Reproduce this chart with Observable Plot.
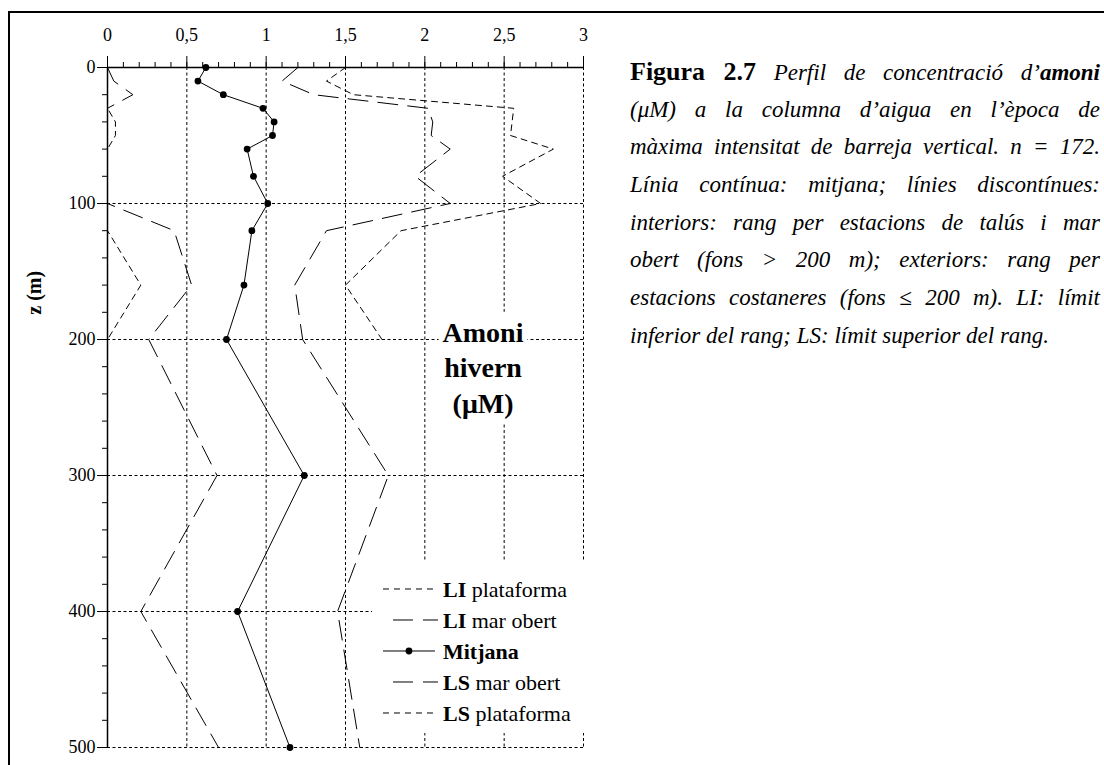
<!DOCTYPE html>
<html>
<head>
<meta charset="utf-8">
<script src="https://cdn.jsdelivr.net/npm/d3@7"></script>
<script src="https://cdn.jsdelivr.net/npm/@observablehq/plot@0.6"></script>
<style>
  html, body { margin: 0; padding: 0; background: #fff; width: 1104px; height: 765px; overflow: hidden; }
  #frame { position: absolute; left: 8px; top: 11px; width: 1200px; height: 900px;
           border-left: 2px solid #000; border-top: 2px solid #000; }
  #chart { position: absolute; left: 0; top: 0; }
  #caption { position: absolute; left: 630px; top: 53px; width: 470px;
             font-family: "Liberation Serif", "Times New Roman", serif; font-size: 23px;
             font-style: italic; color: #000; }
  #caption .ln { height: 37.7px; line-height: 37.7px; text-align: justify; text-align-last: justify; }
  #caption .ln.last { text-align: left; text-align-last: left; }
  #caption .fig { font-style: normal; font-weight: bold; font-size: 26px; }
</style>
</head>
<body>
<div id="frame"></div>
<div id="chart"></div>
<div id="caption">
  <div class="ln"><span class="fig">Figura 2.7</span> Perfil de concentració d’<b>amoni</b></div>
  <div class="ln">(μM) a la columna d’aigua en l’època de</div>
  <div class="ln">màxima intensitat de barreja vertical. n = 172.</div>
  <div class="ln">Línia contínua: mitjana; línies discontínues:</div>
  <div class="ln">interiors: rang per estacions de talús i mar</div>
  <div class="ln">obert (fons &gt; 200 m); exteriors: rang per</div>
  <div class="ln">estacions costaneres (fons ≤ 200 m). LI: límit</div>
  <div class="ln last">inferior del rang; LS: límit superior del rang.</div>
</div>
<script>
// Sampling depths (m): open-sea profiles reach 500 m, shelf stations stop at 200 m
const depth = [0, 10, 20, 30, 40, 50, 60, 80, 100, 120, 160, 200, 300, 400, 500];
const depthPlataforma = [0, 10, 20, 30, 40, 50, 60, 80, 100, 120, 160, 200];

// Ammonium concentration (µM), winter mixing period
const mitjana      = [0.62, 0.57, 0.73, 0.98, 1.05, 1.04, 0.88, 0.92, 1.01, 0.91, 0.86, 0.75, 1.24, 0.82, 1.15];
const liMarObert   = [0.00, 0.04, 0.16, 0.00, 0.00, 0.00, 0.00, 0.00, 0.00, 0.42, 0.53, 0.26, 0.69, 0.21, 0.70];
const lsMarObert   = [1.20, 1.10, 1.30, 2.02, 2.05, 2.04, 2.16, 1.94, 2.16, 1.38, 1.18, 1.23, 1.77, 1.45, 1.59];
const liPlataforma = [0.00, 0.00, 0.00, 0.00, 0.05, 0.05, 0.00, 0.00, 0.00, 0.00, 0.21, 0.00];
const lsPlataforma = [1.50, 1.38, 1.55, 2.56, 2.55, 2.54, 2.81, 2.49, 2.73, 1.85, 1.50, 1.73];

const xTicks = [0, 0.5, 1, 1.5, 2, 2.5, 3];
const yTicks = [0, 100, 200, 300, 400, 500];
const xMinorTicks = d3.range(0, 31).map(i => i / 10);
const yMinorTicks = d3.range(0, 501, 20);

const chartLabel = ["Amoni", "hivern", "(μM)"];
const legendLabels = [["LI", " plataforma"], ["LI", " mar obert"], ["Mitjana", ""], ["LS", " mar obert"], ["LS", " plataforma"]];

const rows = (zs, vs) => zs.map((z, i) => ({z, v: vs[i]}));
const comma = d => String(d).replace(".", ",");

const SHORT = "6,5";
const LONG = "20,10";
const GRID = "3,2.5";

const plot = Plot.plot({
  width: 600,
  height: 765,
  marginLeft: 107,
  marginRight: 17,
  marginTop: 67,
  marginBottom: 18,
  style: {fontFamily: "'Liberation Serif', 'Times New Roman', serif", fontSize: "18px", color: "#000", background: "transparent"},
  x: {domain: [0, 3]},
  y: {domain: [0, 500], reverse: true},
  marks: [
    // dotted reference grid
    Plot.ruleX(xTicks.slice(1), {stroke: "#000", strokeWidth: 1, strokeDasharray: GRID}),
    Plot.ruleY(yTicks.slice(1), {stroke: "#000", strokeWidth: 1, strokeDasharray: GRID}),
    // top concentration axis
    Plot.axisX({anchor: "top", ticks: xMinorTicks, tickSize: 6, tickFormat: () => "", label: null, stroke: "#000"}),
    Plot.axisX({anchor: "top", ticks: xTicks, tickSize: 12, tickPadding: 15, tickFormat: comma, label: null, stroke: "#000", fill: "#000"}),
    // depth axis
    Plot.axisY({anchor: "left", ticks: yMinorTicks, tickSize: 5, tickFormat: () => "", label: null, stroke: "#000"}),
    Plot.axisY({anchor: "left", ticks: yTicks, tickSize: 10, tickPadding: 2, label: null, stroke: "#000", fill: "#000"}),
    Plot.ruleX([0], {stroke: "#000", strokeWidth: 1.5}),
    Plot.ruleY([0], {stroke: "#000", strokeWidth: 1.5}),
    // range envelopes
    Plot.line(rows(depthPlataforma, liPlataforma), {x: "v", y: "z", stroke: "#000", strokeWidth: 1, strokeDasharray: SHORT}),
    Plot.line(rows(depth, liMarObert), {x: "v", y: "z", stroke: "#000", strokeWidth: 1, strokeDasharray: LONG}),
    Plot.line(rows(depth, lsMarObert), {x: "v", y: "z", stroke: "#000", strokeWidth: 1, strokeDasharray: LONG}),
    Plot.line(rows(depthPlataforma, lsPlataforma), {x: "v", y: "z", stroke: "#000", strokeWidth: 1, strokeDasharray: SHORT}),
    // mean profile
    Plot.line(rows(depth, mitjana), {x: "v", y: "z", stroke: "#000", strokeWidth: 1}),
    Plot.dot(rows(depth, mitjana), {x: "v", y: "z", r: 3.4, fill: "#000", stroke: "none"})
  ]
});
document.getElementById("chart").append(plot);

const sx = plot.scale("x"), sy = plot.scale("y");
const svg = d3.select(plot);
const serif = "'Liberation Serif', 'Times New Roman', serif";

// depth axis title
svg.append("text")
  .attr("transform", `translate(36,${sy.apply(166)}) rotate(-90)`)
  .attr("text-anchor", "middle")
  .attr("dominant-baseline", "middle")
  .attr("font-family", serif).attr("font-size", 20).attr("font-weight", "bold")
  .text("z (m)");

// panel title on a white patch
const tg = svg.append("g");
tg.append("rect")
  .attr("x", sx.apply(2.09)).attr("width", sx.apply(2.65) - sx.apply(2.09))
  .attr("y", sy.apply(180)).attr("height", sy.apply(262) - sy.apply(180))
  .attr("fill", "#fff");
chartLabel.forEach((t, i) => {
  tg.append("text")
    .attr("x", sx.apply(2.37)).attr("y", sy.apply(202) + i * 35.7)
    .attr("text-anchor", "middle")
    .attr("font-family", serif).attr("font-size", 28).attr("font-weight", "bold")
    .text(t);
});

// legend
const lg = svg.append("g");
const lx0 = sx.apply(1.67), lx1 = sx.apply(3) + 8;
lg.append("rect")
  .attr("x", lx0).attr("width", lx1 - lx0)
  .attr("y", sy.apply(364)).attr("height", sy.apply(489.7) - sy.apply(364))
  .attr("fill", "#fff");
const sampleX0 = lx0 + 11, sampleX1 = lx0 + 66, textX = lx0 + 71;
const legendStyles = [
  {dash: SHORT, offset: 0, dot: false},
  {dash: LONG, offset: 20, dot: false},
  {dash: null, offset: 0, dot: true},
  {dash: LONG, offset: 20, dot: false},
  {dash: SHORT, offset: 0, dot: false}
];
legendLabels.forEach(([b, rest], i) => {
  const base = sy.apply(389.7) + i * 31;
  const ly = base - 8;
  const st = legendStyles[i];
  const ln = lg.append("line")
    .attr("x1", sampleX0).attr("x2", st.dot ? sampleX1 - 3 : sampleX1)
    .attr("y1", ly).attr("y2", ly)
    .attr("stroke", "#000").attr("stroke-width", 1);
  if (st.dash) ln.attr("stroke-dasharray", st.dash).attr("stroke-dashoffset", st.offset);
  if (st.dot) lg.append("circle").attr("cx", (sampleX0 + sampleX1 - 3) / 2).attr("cy", ly).attr("r", 3.4).attr("fill", "#000");
  const t = lg.append("text").attr("x", textX).attr("y", base)
    .attr("text-anchor", "start")
    .attr("font-family", serif).attr("font-size", 22);
  t.append("tspan").attr("font-weight", "bold").text(b);
  if (rest) t.append("tspan").text(rest);
});
</script>
</body>
</html>
